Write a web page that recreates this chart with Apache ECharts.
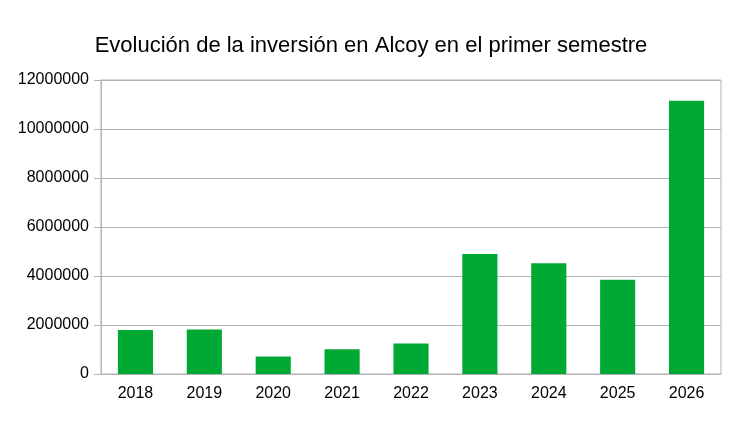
<!DOCTYPE html>
<html>
<head>
<meta charset="utf-8">
<script src="https://cdn.jsdelivr.net/npm/echarts@6/dist/echarts.min.js"></script>
<style>
  html, body { margin: 0; padding: 0; background: #fff; }
  #chart { width: 742px; height: 429px; }
</style>
</head>
<body>
<div id="chart"></div>
<script>
// datos
const years = ['2018', '2019', '2020', '2021', '2022', '2023', '2024', '2025', '2026'];
const inversion = [1800000, 1820000, 710000, 1010000, 1250000, 4900000, 4520000, 3850000, 11150000];
const titulo = 'Evolución de la inversión en Alcoy en el primer semestre';

const myChart = echarts.init(document.getElementById('chart'));

const option = {
    animation: false,
    title: {
        text: titulo,
        left: 'center',
        top: 30,
        textStyle: {
            fontFamily: 'Liberation Sans',
            fontSize: 22,
            fontWeight: 'normal',
            color: '#000'
        }
    },
    grid: {
        left: 101,
        right: 21,
        top: 80,
        bottom: 55,
        show: true,
        borderColor: '#b3b3b3',
        borderWidth: 1
    },
    xAxis: {
        type: 'category',
        data: years,
        axisLine: { lineStyle: { color: '#b3b3b3' } },
        axisTick: { length: 6, lineStyle: { color: '#b3b3b3' } },
        axisLabel: {
            fontFamily: 'Liberation Sans',
            fontSize: 16,
            color: '#000',
            margin: 12
        }
    },
    yAxis: {
        type: 'value',
        min: 0,
        max: 12000000,
        interval: 2000000,
        axisLine: { show: true, lineStyle: { color: '#b3b3b3' } },
        axisTick: { show: true, length: 7, lineStyle: { color: '#b3b3b3' } },
        splitLine: { lineStyle: { color: '#b3b3b3' } },
        axisLabel: {
            fontFamily: 'Liberation Sans',
            fontSize: 16,
            color: '#000',
            margin: 12,
            formatter: (v) => String(v)
        }
    },
    series: [
        {
            type: 'bar',
            data: inversion,
            barWidth: '51%',
            itemStyle: { color: '#00a933' }
        }
    ]
};

myChart.setOption(option);
</script>
</body>
</html>
